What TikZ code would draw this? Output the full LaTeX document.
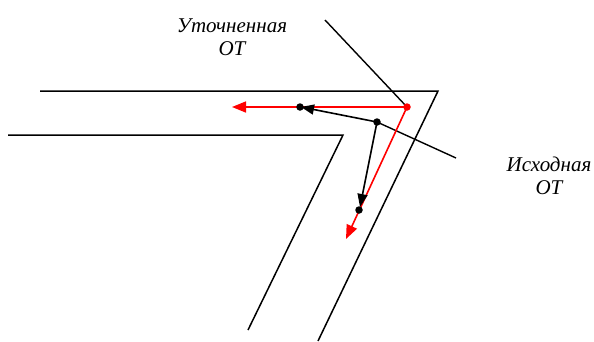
\documentclass[tikz,border=0pt]{standalone}
\usepackage{fontspec}
\setmainfont{Liberation Serif}
\usetikzlibrary{arrows.meta}
\begin{document}
\begin{tikzpicture}[x=1pt,y=-1pt,
  wall/.style={draw=black,line width=1.5pt},
  redarr/.style={draw=red,line width=1.6pt,-{Triangle[length=14pt,width=11pt]}},
  blkarr/.style={draw=black,line width=1.6pt,-{Triangle[length=13pt,width=10pt]}},
  pointer/.style={draw=black,line width=1.4pt},
  dot/.style={circle,fill=black,inner sep=0pt,minimum size=7.5pt},
  reddot/.style={circle,fill=red,inner sep=0pt,minimum size=7.5pt},
  lbl/.style={font=\fontsize{21}{23}\selectfont\itshape,align=center,inner sep=0pt}]
\useasboundingbox (0,0) rectangle (594,341);
% corridor walls
\coordinate (o1) at (40,91);
\coordinate (o2) at (438,91);
\coordinate (o3) at (318,341);
\coordinate (i1) at (8,135);
\coordinate (i2) at (343,135);
\coordinate (i3) at (248,330);
\draw[wall] (o1) -- (o2) -- (o3);
\draw[wall] (i1) -- (i2) -- (i3);
% points
\coordinate (R) at (407,107);
\coordinate (B) at (377,122);
\coordinate (D1) at (300,107);
\coordinate (D2) at (359,210);
\coordinate (RA1) at (232,107);
\coordinate (RA2) at (346,239);
\coordinate (BA1) at (301,107);
\coordinate (BA2) at (360,207);
\coordinate (P1) at (325,20);
\coordinate (P2) at (456,158);
% pointer lines
\draw[pointer] (P1) -- (R);
\draw[pointer] (B) -- (P2);
% red arrows
\draw[redarr] (R) -- (RA1);
\draw[redarr] (R) -- (RA2);
% black arrows
\draw[blkarr] (B) -- (BA1);
\draw[blkarr] (B) -- (BA2);
% dots
\node[reddot] (rd) at (R) {};
\node[dot] (bd) at (B) {};
\node[dot] (d1) at (D1) {};
\node[dot] (d2) at (D2) {};
% labels
\node[lbl] (L1) at (232,37) {Уточненная\\ОТ};
\node[lbl] (L2) at (549,176) {Исходная\\ОТ};
\end{tikzpicture}
\end{document}
